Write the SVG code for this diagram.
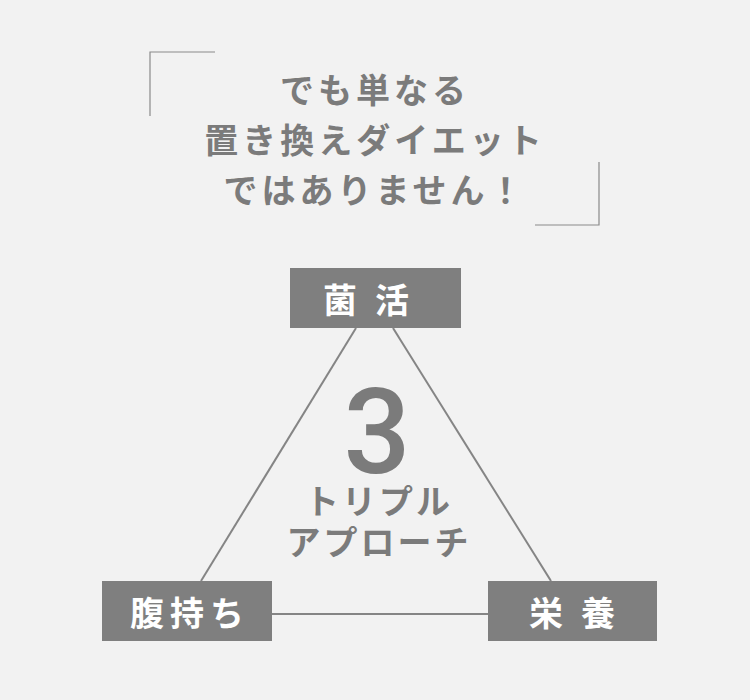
<svg xmlns="http://www.w3.org/2000/svg" width="750" height="700" viewBox="0 0 750 700">
<style>
.bg{fill:#f2f2f2}
.br{fill:none;stroke:#8a8a8a;stroke-width:1.2}
.head{font-family:"Noto Sans CJK JP","Noto Sans",sans-serif;font-weight:bold;font-size:34px;fill:#7b7b7b;text-anchor:middle;dominant-baseline:central;letter-spacing:4px}
.box{fill:#7f7f7f}
.lbl{font-family:"Noto Sans CJK JP","Noto Sans",sans-serif;font-weight:bold;font-size:34px;fill:#ffffff;text-anchor:middle;dominant-baseline:central}
.con{stroke:#858585;stroke-width:2;fill:none}
.big{font-family:Roboto,"Liberation Sans",sans-serif;font-weight:500;font-size:118px;fill:#7b7b7b;text-anchor:middle}
.sub{font-family:"Noto Sans CJK JP","Noto Sans",sans-serif;font-weight:bold;font-size:34px;fill:#7b7b7b;text-anchor:middle;dominant-baseline:central;letter-spacing:3px}
</style>
<rect class="bg" x="0" y="0" width="750" height="700"/>
<g id="header">
<path class="br" d="M150,116 V52 H215"/>
<path class="br" d="M599,162 V225 H535"/>
<text class="head" x="375" y="88">でも単なる</text>
<text class="head" x="375" y="138">置き換えダイエット</text>
<text class="head" x="375" y="188">ではありません！</text>
</g>
<g id="connectors">
<line class="con" x1="356" y1="328" x2="201" y2="581"/>
<line class="con" x1="393" y1="328" x2="551" y2="581"/>
<line class="con" x1="272" y1="614" x2="488" y2="614"/>
</g>
<g id="center">
<text class="big" x="377" y="473">3</text>
<text class="sub" x="379" y="499">トリプル</text>
<text class="sub" x="379" y="540">アプローチ</text>
</g>
<g id="node-kinkatsu">
<rect class="box" x="290" y="268" width="171" height="60"/>
<text class="lbl" x="375" y="298" letter-spacing="18">菌活</text>
</g>
<g id="node-haramochi">
<rect class="box" x="102" y="581" width="170" height="60"/>
<text class="lbl" x="190" y="611" letter-spacing="6">腹持ち</text>
</g>
<g id="node-eiyou">
<rect class="box" x="488" y="581" width="169" height="60"/>
<text class="lbl" x="581" y="611" letter-spacing="18">栄養</text>
</g>
</svg>
